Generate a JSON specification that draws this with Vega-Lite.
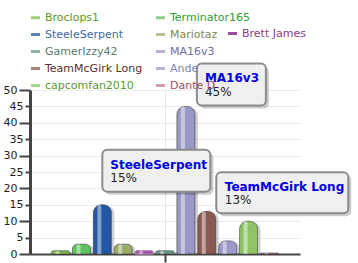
{
  "$schema": "https://vega.github.io/schema/vega-lite/v6.json",
  "width": 270,
  "height": 164,
  "autosize": {"type": "none"},
  "padding": {"left": 30, "top": 90, "right": 58, "bottom": 9},
  "config": {"view": {"stroke": null}, "font": "DejaVu Sans"},
  "data": {
    "values": [
      {"player": "Broclops1", "pct": 1},
      {"player": "Terminator165", "pct": 3},
      {"player": "SteeleSerpent", "pct": 15},
      {"player": "Mariotaz", "pct": 3},
      {"player": "Brett James", "pct": 1},
      {"player": "GamerIzzy42", "pct": 1},
      {"player": "MA16v3", "pct": 45},
      {"player": "TeamMcGirk Long", "pct": 13},
      {"player": "Ande", "pct": 4},
      {"player": "capcomfan2010", "pct": 10},
      {"player": "Dante D", "pct": 0.3}
    ]
  },
  "encoding": {
    "x": {
      "field": "player", "type": "nominal", "sort": null,
      "scale": {"paddingInner": 0.077, "paddingOuter": 1.46},
      "axis": {"title": null, "labels": false, "values": ["GamerIzzy42"], "bandPosition": 0.5, "grid": true, "gridColor": "#e6e6e6", "tickColor": "#444", "tickWidth": 2, "tickSize": 8, "domainColor": "#444", "domainWidth": 2}
    },
    "y": {
      "field": "pct", "type": "quantitative", "stack": null,
      "scale": {"domain": [0, 50], "nice": false},
      "axis": {
        "title": null,
        "values": [0, 5, 10, 15, 20, 25, 30, 35, 40, 45, 50],
        "grid": true, "gridColor": "#ebebeb",
        "domainColor": "#444", "domainWidth": 3,
        "tickColor": "#444", "tickWidth": 2,
        "tickSize": {"condition": {"test": "datum.value % 10 === 0", "value": 11}, "value": 5},
        "labelPadding": 2,
        "labelFont": "DejaVu Sans", "labelFontSize": 11, "labelColor": "#222"
      }
    }
  },
  "layer": [
    {"mark": {"type": "bar", "width": 18, "xOffset": 3, "yOffset": 1, "cornerRadiusTopLeft": 8, "cornerRadiusTopRight": 8, "fill": "#000", "opacity": 0.18}},
    {
      "mark": {"type": "bar", "width": 18, "cornerRadiusTopLeft": 8, "cornerRadiusTopRight": 8, "stroke": "#333", "strokeOpacity": 0.55, "strokeWidth": 1},
      "encoding": {
        "fill": {
          "field": "player", "type": "nominal",
          "scale": {
            "domain": ["Broclops1", "Terminator165", "SteeleSerpent", "Mariotaz", "Brett James", "GamerIzzy42", "MA16v3", "TeamMcGirk Long", "Ande", "capcomfan2010", "Dante D"],
            "range": ["#7fba4e", "#5fc25f", "#2458a6", "#9bab6c", "#9c4c9c", "#6c9a90", "#9a98c6", "#8a5a52", "#9c9aca", "#8ec466", "#c47a94"]
          },
          "legend": {
            "orient": "none", "legendX": 0, "legendY": -78, "zindex": -1,
            "columns": 2, "direction": "horizontal",
            "values": ["Broclops1", "Terminator165", "SteeleSerpent", "Mariotaz", "GamerIzzy42", "MA16v3", "TeamMcGirk Long", "Ande", "capcomfan2010", "Dante D"],
            "title": null,
            "symbolType": "M-1,-0.33H1V0.33H-1Z", "symbolSize": 81, "symbolStrokeWidth": 0, "symbolOpacity": 0.75,
            "labelFont": "DejaVu Sans", "labelFontSize": 11, "labelOffset": 4, "labelLimit": 200,
            "columnPadding": 12, "rowPadding": 5,
            "labelColor": {"expr": "datum.value === 'Broclops1' ? '#5a9a1e' : datum.value === 'Terminator165' ? '#2e9e2e' : datum.value === 'SteeleSerpent' ? '#3a68a8' : datum.value === 'Mariotaz' ? '#7a8a4a' : datum.value === 'GamerIzzy42' ? '#5a7a6e' : datum.value === 'MA16v3' ? '#6e6ea8' : datum.value === 'TeamMcGirk Long' ? '#5e3028' : datum.value === 'Ande' ? '#8080b8' : datum.value === 'capcomfan2010' ? '#5a9a2a' : '#a04a6a'"}
          }
        }
      }
    },
    {
      "transform": [{"filter": "datum.player === 'Brett James'"}],
      "mark": {"type": "bar", "width": 18, "cornerRadiusTopLeft": 8, "cornerRadiusTopRight": 8, "fill": "#9c4c9c", "strokeWidth": 1},
      "encoding": {
        "stroke": {
          "field": "player", "type": "nominal",
          "scale": {"domain": ["Brett James"], "range": ["#c890c8"]},
          "legend": {
            "orient": "none", "legendX": 197, "legendY": -62, "title": null, "zindex": -1,
            "symbolType": "M-1,-0.33H1V0.33H-1Z", "symbolSize": 81, "symbolStrokeWidth": 0, "symbolFillColor": "#c890c8",
            "labelFont": "DejaVu Sans", "labelFontSize": 11, "labelOffset": 4, "labelColor": "#8a3a8a"
          }
        }
      }
    },
    {"mark": {"type": "bar", "width": 4, "xOffset": -3, "cornerRadiusTopLeft": 2, "cornerRadiusTopRight": 2, "fill": "#fff", "opacity": 0.45}},
    {
      "transform": [{"filter": "datum.player === 'SteeleSerpent'"}, {"calculate": "datum.pct + '%'", "as": "pct_label"}],
      "layer": [
        {"mark": {"type": "rect", "width": 108, "xOffset": 57, "yOffset": -52, "y2Offset": -10, "cornerRadius": 5, "fill": "#000", "opacity": 0.2}, "encoding": {"y2": {"field": "pct"}}},
        {"mark": {"type": "rect", "width": 108, "xOffset": 54, "yOffset": -55, "y2Offset": -13, "cornerRadius": 5, "fill": "#efefef", "stroke": "#8c8c8c", "strokeWidth": 2}, "encoding": {"y2": {"field": "pct"}}},
        {"mark": {"type": "text", "align": "left", "baseline": "alphabetic", "dx": 8, "dy": -36, "font": "DejaVu Sans", "fontSize": 12, "fontWeight": "bold", "fill": "#0000e0"}, "encoding": {"text": {"field": "player"}}},
        {"mark": {"type": "text", "align": "left", "baseline": "alphabetic", "dx": 8, "dy": -23, "font": "DejaVu Sans", "fontSize": 12, "fill": "#222"}, "encoding": {"text": {"field": "pct_label"}}}
      ]
    },
    {
      "transform": [{"filter": "datum.player === 'MA16v3'"}, {"calculate": "datum.pct + '%'", "as": "pct_label"}],
      "layer": [
        {"mark": {"type": "rect", "width": 69, "xOffset": 48.5, "yOffset": -40, "y2Offset": 2, "cornerRadius": 5, "fill": "#000", "opacity": 0.2}, "encoding": {"y2": {"field": "pct"}}},
        {"mark": {"type": "rect", "width": 69, "xOffset": 45.5, "yOffset": -43, "y2Offset": -1, "cornerRadius": 5, "fill": "#efefef", "stroke": "#8c8c8c", "strokeWidth": 2}, "encoding": {"y2": {"field": "pct"}}},
        {"mark": {"type": "text", "align": "left", "baseline": "alphabetic", "dx": 19, "dy": -24, "font": "DejaVu Sans", "fontSize": 12, "fontWeight": "bold", "fill": "#0000e0"}, "encoding": {"text": {"field": "player"}}},
        {"mark": {"type": "text", "align": "left", "baseline": "alphabetic", "dx": 19, "dy": -10.5, "font": "DejaVu Sans", "fontSize": 12, "fill": "#222"}, "encoding": {"text": {"field": "pct_label"}}}
      ]
    },
    {
      "transform": [{"filter": "datum.player === 'TeamMcGirk Long'"}, {"calculate": "datum.pct + '%'", "as": "pct_label"}],
      "layer": [
        {"mark": {"type": "rect", "width": 132, "xOffset": 78.5, "yOffset": -36, "y2Offset": 5, "cornerRadius": 5, "fill": "#000", "opacity": 0.2}, "encoding": {"y2": {"field": "pct"}}},
        {"mark": {"type": "rect", "width": 132, "xOffset": 75.5, "yOffset": -39, "y2Offset": 2, "cornerRadius": 5, "fill": "#efefef", "stroke": "#8c8c8c", "strokeWidth": 2}, "encoding": {"y2": {"field": "pct"}}},
        {"mark": {"type": "text", "align": "left", "baseline": "alphabetic", "dx": 18, "dy": -20.5, "font": "DejaVu Sans", "fontSize": 12, "fontWeight": "bold", "fill": "#0000e0"}, "encoding": {"text": {"field": "player"}}},
        {"mark": {"type": "text", "align": "left", "baseline": "alphabetic", "dx": 18, "dy": -7.5, "font": "DejaVu Sans", "fontSize": 12, "fill": "#222"}, "encoding": {"text": {"field": "pct_label"}}}
      ]
    }
  ]
}
